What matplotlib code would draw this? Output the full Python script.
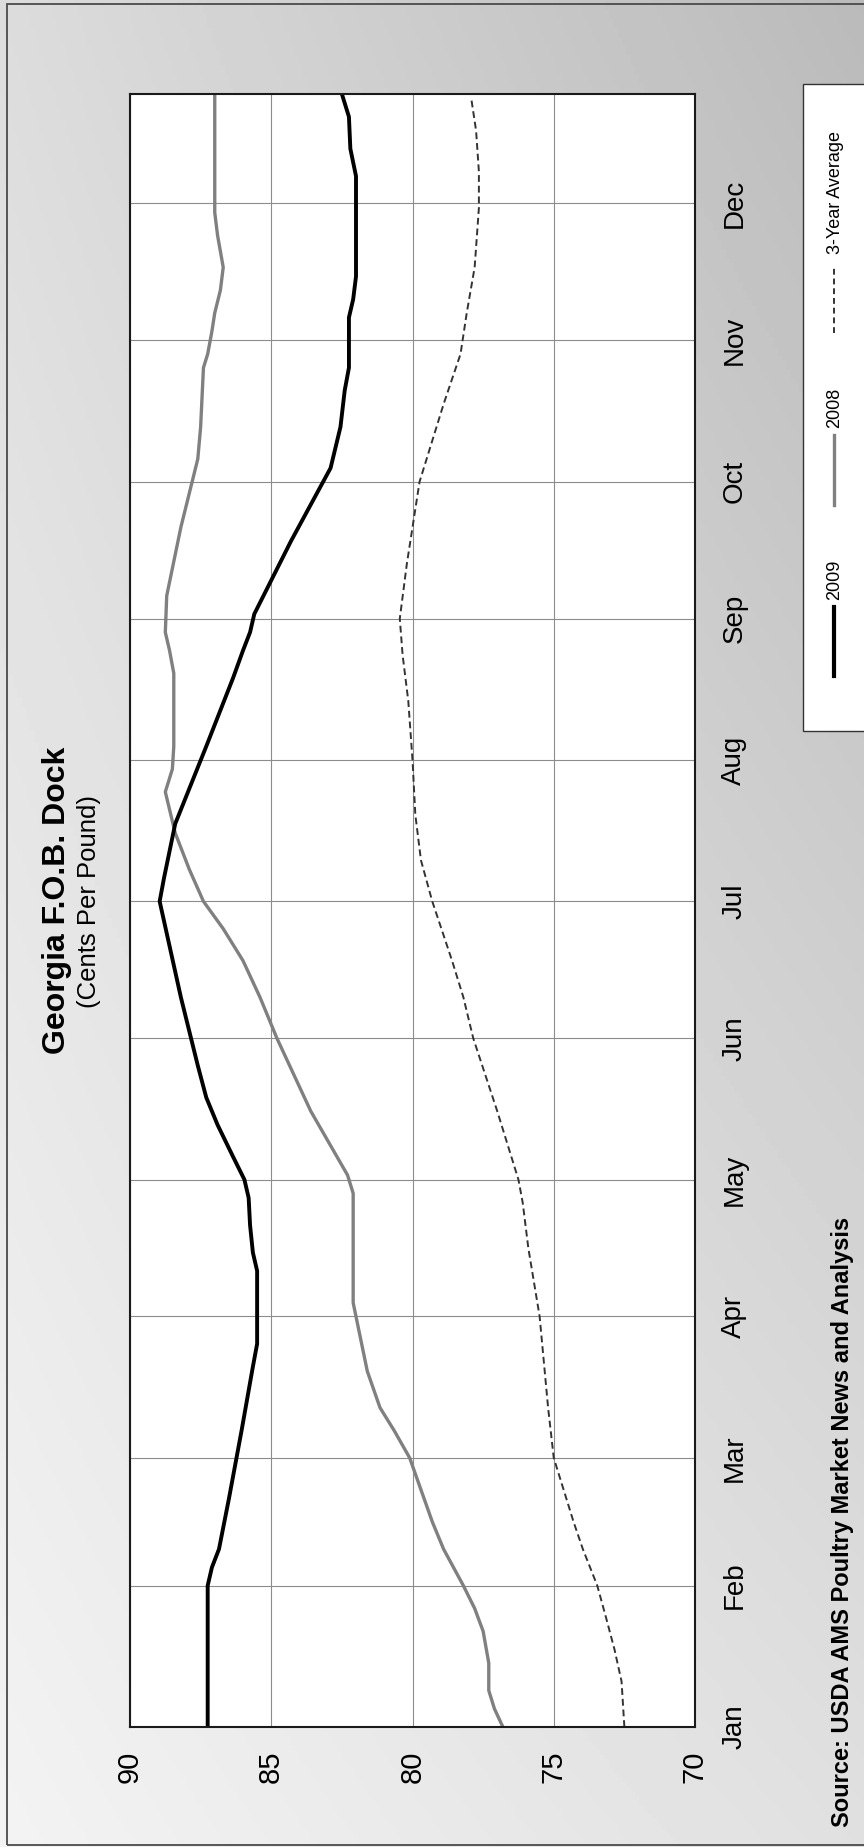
import matplotlib
matplotlib.use('Agg')
import matplotlib.pyplot as plt
import numpy as np
from matplotlib.lines import Line2D
from matplotlib.patches import Rectangle

plt.rcParams['font.family'] = ['Liberation Sans', 'DejaVu Sans']

# ---- data (day of year, cents per pound) ----
months = ['Jan', 'Feb', 'Mar', 'Apr', 'May', 'Jun', 'Jul', 'Aug', 'Sep', 'Oct', 'Nov', 'Dec']
month_days = [0, 31, 59, 90, 120, 151, 181, 212, 243, 273, 304, 334]
value_ticks = [90, 85, 80, 75, 70]

days_2009 = [0, 31, 35, 39, 50, 65, 79, 84, 100, 104, 110, 116, 120, 125, 132, 138, 145,
             160, 181, 186, 198, 215, 230, 236, 240, 244, 260, 276, 285, 293, 298, 309,
             313, 318, 340, 346, 353, 358]
vals_2009 = [87.25, 87.25, 87.1, 86.85, 86.5, 86.05, 85.65, 85.5, 85.5, 85.65, 85.75, 85.8,
             85.95, 86.35, 86.9, 87.3, 87.6, 88.2, 88.95, 88.8, 88.4, 87.3, 86.35, 86.0,
             85.75, 85.6, 84.3, 82.9, 82.55, 82.4, 82.25, 82.25, 82.1, 82.0, 82.0, 82.2,
             82.25, 82.5]

days_2008 = [0, 4, 8, 14, 21, 26, 31, 39, 45, 59, 65, 70, 78, 87, 93, 117, 121, 135, 151,
             160, 168, 175, 181, 188, 196, 205, 210, 215, 231, 236, 240, 248, 263, 278, 285,
             298, 301, 306, 310, 315, 320, 327, 332, 358]
vals_2008 = [76.8, 77.1, 77.3, 77.3, 77.5, 77.8, 78.2, 78.9, 79.3, 80.1, 80.65, 81.15, 81.6,
             81.9, 82.1, 82.1, 82.3, 83.6, 84.8, 85.4, 86.0, 86.7, 87.4, 87.9, 88.4, 88.75,
             88.5, 88.45, 88.45, 88.6, 88.75, 88.7, 88.2, 87.6, 87.5, 87.4, 87.25, 87.1,
             87.0, 86.8, 86.7, 86.9, 87.0, 87.0]

days_avg = [0, 10, 17, 24, 31, 39, 45, 59, 70, 90, 105, 115, 120, 125, 135, 151, 160, 168,
            181, 190, 200, 212, 225, 235, 243, 255, 273, 290, 301, 310, 320, 333, 341, 350,
            357]
vals_avg = [72.5, 72.6, 72.85, 73.15, 73.46, 73.97, 74.3, 75.0, 75.2, 75.5, 75.9, 76.1,
            76.25, 76.5, 77.0, 77.85, 78.2, 78.6, 79.3, 79.7, 79.9, 80.0, 80.15, 80.35,
            80.45, 80.2, 79.75, 78.9, 78.3, 78.08, 77.8, 77.65, 77.65, 77.75, 77.92]

W, H = 864, 1847
fig = plt.figure(figsize=(W / 100, H / 100), dpi=100)


def fx(px):
    return px / W


def fy(py):
    return 1 - py / H


# gradient background + frame
bg = fig.add_axes([0, 0, 1, 1], zorder=-10)
X, T = np.meshgrid(np.linspace(0, 1, 200), np.linspace(0, 1, 400))
shade = (220 * (1 - X) * (1 - T) + 186 * X * (1 - T) + 243 * (1 - X) * T + 224 * X * T) / 255
bg.imshow(shade, extent=[0, 1, 0, 1], origin='upper', cmap='gray', vmin=0, vmax=1,
          aspect='auto')
bg.set_xlim(0, 1)
bg.set_ylim(0, 1)
bg.axis('off')
bg.add_patch(Rectangle((fx(7), fy(1845)), 1.0, fy(4) - fy(1845), fill=False,
                       edgecolor='#4a4a4a', lw=1.3, clip_on=False))

# main plot (rotated: values run horizontally, months vertically)
ax = fig.add_axes([fx(130), fy(1727), fx(695) - fx(130), fy(94) - fy(1727)])
ax.set_facecolor('white')
ax.plot(vals_avg, days_avg, color='#333333', lw=1.4, dashes=(3.5, 2))
ax.plot(vals_2008, days_2008, color='#808080', lw=2.4, solid_joinstyle='round')
ax.plot(vals_2009, days_2009, color='black', lw=2.8, solid_joinstyle='round')

ax.set_xlim(90, 70)
ax.set_ylim(0, 358)
ax.set_xticks(value_ticks)
ax.set_xticklabels([str(v) for v in value_ticks], rotation=90, fontsize=21)
ax.yaxis.tick_right()
ax.set_yticks(month_days)
ax.set_yticklabels(months, rotation=90, va='center', fontsize=20)
ax.tick_params(axis='x', length=0, pad=17)
ax.tick_params(axis='y', length=0, pad=19)
ax.grid(True, color='#8c8c8c', lw=0.8)
ax.set_axisbelow(True)
for s in ax.spines.values():
    s.set_color('#1a1a1a')
    s.set_linewidth(1.5)

# titles
fig.text(fx(57), fy(900), 'Georgia F.O.B. Dock', rotation=90, ha='center', va='center',
         fontsize=23, fontweight='bold')
fig.text(fx(89), fy(901), '(Cents Per Pound)', rotation=90, ha='center', va='center',
         fontsize=18.5)
fig.text(fx(843), fy(1522), 'Source: USDA AMS Poultry Market News and Analysis', rotation=90,
         ha='center', va='center', fontsize=17, fontweight='bold')

# legend box (drawn by hand, rotated)
bg.add_patch(Rectangle((fx(803), fy(731)), 1.0, fy(84) - fy(731), facecolor='white',
                       edgecolor='#333333', lw=1.0, clip_on=False, zorder=3))
lx = fx(834)
bg.add_line(Line2D([lx, lx], [fy(676), fy(607)], color='black', lw=3.0, zorder=4))
bg.add_line(Line2D([lx, lx], [fy(505), fy(435)], color='#808080', lw=2.4, zorder=4))
bg.add_line(Line2D([lx, lx], [fy(333), fy(267)], color='#333333', lw=1.4, dashes=(3, 2),
                   zorder=4))
bg.text(fx(835), fy(580), '2009', rotation=90, ha='center', va='center', fontsize=13, zorder=5)
bg.text(fx(835), fy(408), '2008', rotation=90, ha='center', va='center', fontsize=13, zorder=5)
bg.text(fx(835), fy(193), '3-Year Average', rotation=90, ha='center', va='center',
        fontsize=13, zorder=5)

fig.savefig('out.png', dpi=100)
